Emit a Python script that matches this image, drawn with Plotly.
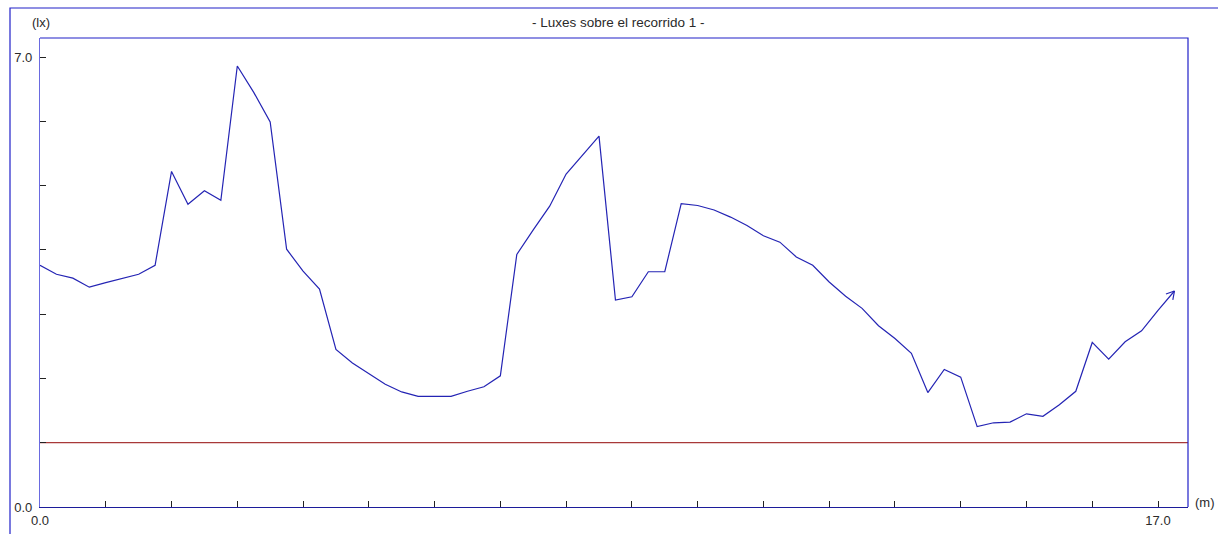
import math
import plotly.graph_objects as go

# Distance along route 1 (m) and measured illuminance (lx)
distance_m = [
    0.0, 0.25, 0.5, 0.75, 1.0, 1.25, 1.5, 1.75, 2.0, 2.25, 2.5, 2.75,
    3.0, 3.25, 3.5, 3.75, 4.0, 4.25, 4.5, 4.75, 5.0, 5.25, 5.5, 5.75,
    6.0, 6.25, 6.5, 6.75, 7.0, 7.25, 7.5, 7.75, 8.0, 8.25, 8.5, 8.75,
    9.0, 9.25, 9.5, 9.75, 10.0, 10.25, 10.5, 10.75, 11.0, 11.25, 11.5, 11.75,
    12.0, 12.25, 12.5, 12.75, 13.0, 13.25, 13.5, 13.75, 14.0, 14.25, 14.5, 14.75,
    15.0, 15.25, 15.5, 15.75, 16.0, 16.25, 16.5, 16.75, 17.0, 17.25,
]
lux = [
    3.76, 3.62, 3.56, 3.42, 3.49, 3.56, 3.62, 3.76, 5.22, 4.71, 4.92, 4.77,
    6.86, 6.45, 5.99, 4.01, 3.67, 3.39, 2.45, 2.24, 2.08, 1.91, 1.79, 1.72,
    1.72, 1.72, 1.80, 1.87, 2.04, 3.93, 4.31, 4.68, 5.18, 5.48, 5.77, 3.22,
    3.27, 3.66, 3.66, 4.72, 4.69, 4.62, 4.51, 4.38, 4.22, 4.12, 3.89, 3.76,
    3.50, 3.28, 3.09, 2.82, 2.62, 2.39, 1.78, 2.14, 2.02, 1.25, 1.31, 1.32,
    1.45, 1.41, 1.59, 1.80, 2.56, 2.30, 2.57, 2.74, 3.06, 3.36,
]
reference_lux = 1.0
x_tick_values = list(range(0, 18))
y_tick_values = list(range(0, 8))
x_tick_labels = {0: "0.0", 17: "17.0"}
y_tick_labels = {0: "0.0", 7: "7.0"}
title_text = "- Luxes sobre el recorrido 1 -"

W, H = 1218, 534
ML, MR, MT, MB = 40, 30, 38, 27
X_RANGE = [0, 17.456]
Y_RANGE = [0, 7.296]
FONT = "Liberation Sans, Arial, sans-serif"
LINE_BLUE = "#2424b4"
FRAME_BLUE = "#2020c8"
TEXT = "#2a2a2a"

fig = go.Figure()

fig.add_trace(go.Scatter(
    x=distance_m, y=lux, mode="lines",
    line=dict(color=LINE_BLUE, width=1.2),
    hoverinfo="x+y", showlegend=False,
))

fig.add_trace(go.Scatter(
    x=[0, X_RANGE[1]], y=[reference_lux, reference_lux], mode="lines",
    line=dict(color="#a83838", width=1.2),
    hoverinfo="skip", showlegend=False,
))

# Open arrow head at the end of the curve, oriented along the last segment
px_per_x = (W - ML - MR) / (X_RANGE[1] - X_RANGE[0])
px_per_y = (H - MT - MB) / (Y_RANGE[1] - Y_RANGE[0])
x1, y1 = distance_m[-1], lux[-1]
x0, y0 = distance_m[-2], lux[-2]
ang = math.atan2((y1 - y0) * px_per_y, (x1 - x0) * px_per_x)
head_len = 9.0
wing_x, wing_y = [], []
for d in (math.radians(150), math.radians(-150)):
    wx = x1 + head_len * math.cos(ang + d) / px_per_x
    wy = y1 + head_len * math.sin(ang + d) / px_per_y
    wing_x += [wx, x1, None]
    wing_y += [wy, y1, None]
fig.add_trace(go.Scatter(
    x=wing_x, y=wing_y, mode="lines",
    line=dict(color=LINE_BLUE, width=1.2),
    hoverinfo="skip", showlegend=False,
))

# Outer frame around the whole chart
fig.add_shape(
    type="rect", xref="paper", yref="paper",
    x0=(10 - ML) / (W - ML - MR), x1=1.2,
    y0=-0.2, y1=(H - MB - 8) / (H - MT - MB),
    line=dict(color=FRAME_BLUE, width=1.2), fillcolor="rgba(0,0,0,0)",
    layer="below",
)
# Plot-area frame: top and right edges
fig.add_shape(
    type="path", xref="paper", yref="paper",
    path="M 0,1 L 1,1 L 1,0",
    line=dict(color=FRAME_BLUE, width=1.2),
    layer="above",
)

fig.update_layout(
    width=W, height=H, autosize=False,
    margin=dict(l=ML, r=MR, t=MT, b=MB, pad=0, autoexpand=False),
    paper_bgcolor="white", plot_bgcolor="white",
    font=dict(family=FONT, size=13, color=TEXT),
    showlegend=False,
    xaxis=dict(
        range=X_RANGE, showgrid=False, zeroline=False, automargin=False,
        showline=True, linecolor="#1c1c9a", linewidth=1.2,
        ticks="inside", ticklen=6, tickcolor="#222222", tickwidth=1,
        tickvals=x_tick_values,
        ticktext=[x_tick_labels.get(v, "") for v in x_tick_values],
        tickfont=dict(family=FONT, size=13, color=TEXT),
        ticklabelstandoff=1,
    ),
    yaxis=dict(
        range=Y_RANGE, showgrid=False, zeroline=False, automargin=False,
        showline=True, linecolor="#6a6ae0", linewidth=1.2,
        ticks="inside", ticklen=6, tickcolor="#222222", tickwidth=1,
        tickvals=y_tick_values,
        ticktext=[y_tick_labels.get(v, "") for v in y_tick_values],
        tickfont=dict(family=FONT, size=13, color=TEXT),
        ticklabelstandoff=4,
    ),
    annotations=[
        dict(text=title_text, xref="paper", yref="paper",
             x=(618 - ML) / (W - ML - MR), y=(H - MB - 23) / (H - MT - MB),
             xanchor="center", yanchor="middle", showarrow=False,
             font=dict(family=FONT, size=13.5, color=TEXT)),
        dict(text="(lx)", xref="paper", yref="paper",
             x=(41 - ML) / (W - ML - MR), y=(H - MB - 23) / (H - MT - MB),
             xanchor="center", yanchor="middle", showarrow=False,
             font=dict(family=FONT, size=13, color=TEXT)),
        dict(text="(m)", xref="paper", yref="paper",
             x=(1205 - ML) / (W - ML - MR), y=(H - MB - 502) / (H - MT - MB),
             xanchor="center", yanchor="middle", showarrow=False,
             font=dict(family=FONT, size=13, color=TEXT)),
    ],
)

fig.write_html("out.html")
